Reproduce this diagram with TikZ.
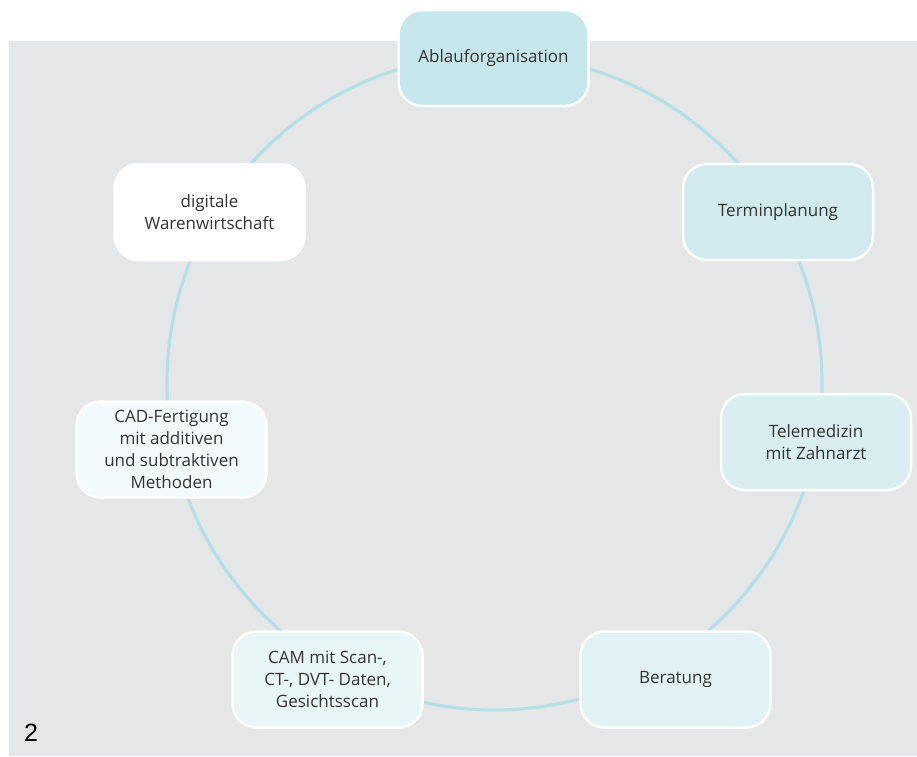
\documentclass[tikz,border=0pt]{standalone}
\usepackage{fontspec}
\setmainfont{Open Sans}
\newfontfamily\numfont{Liberation Sans}
\definecolor{panel}{HTML}{E5E6E8}
\definecolor{ring}{HTML}{B4E0E5}
\definecolor{ink}{HTML}{333333}
\definecolor{fillA}{HTML}{C5E6EB}
\definecolor{fillB}{HTML}{D0EAEE}
\definecolor{fillC}{HTML}{D8EEF1}
\definecolor{fillD}{HTML}{E0F2F4}
\definecolor{fillE}{HTML}{E9F6F7}
\definecolor{fillF}{HTML}{F2FAFB}
\begin{document}
\begin{tikzpicture}[x=1pt,y=-1pt,
  topic/.style={draw=white, line width=2.5pt, rounded corners=24pt,
    minimum width=190pt, minimum height=96pt, align=center,
    text=ink, font=\fontsize{17}{22}\selectfont, inner sep=0pt}]
  \useasboundingbox (0,0) rectangle (917,756);
  \fill[panel] (9,41) rectangle (917,756);
  % cycle ring behind the boxes
  \coordinate (hub) at (494.5,382.5);
  \draw[ring, line width=3.2pt] (hub) circle[radius=327.5pt];
  \node[topic, fill=fillA] (ablauf) at (493.5,58) {Ablauforganisation};
  \node[topic, fill=fillB] (termin) at (778,212) {Terminplanung};
  \node[topic, fill=fillC] (tele) at (816,442) {Telemedizin\\mit Zahnarzt};
  \node[topic, fill=fillD] (berat) at (675.5,679.5) {Beratung};
  \node[topic, fill=fillE] (cam) at (327.5,679.5) {CAM mit Scan-,\\CT-, DVT- Daten,\\Gesichtsscan};
  \node[topic, fill=fillF] (cad) at (171.5,449.5) {CAD-Fertigung\\mit additiven\\und subtraktiven\\Methoden};
  \node[topic, fill=white] (waren) at (209.5,212) {digitale\\Warenwirtschaft};
  \node[anchor=base west, text=black, font=\numfont\fontsize{25}{25}\selectfont, inner sep=0pt] (fig) at (24,741) {2};
\end{tikzpicture}
\end{document}
